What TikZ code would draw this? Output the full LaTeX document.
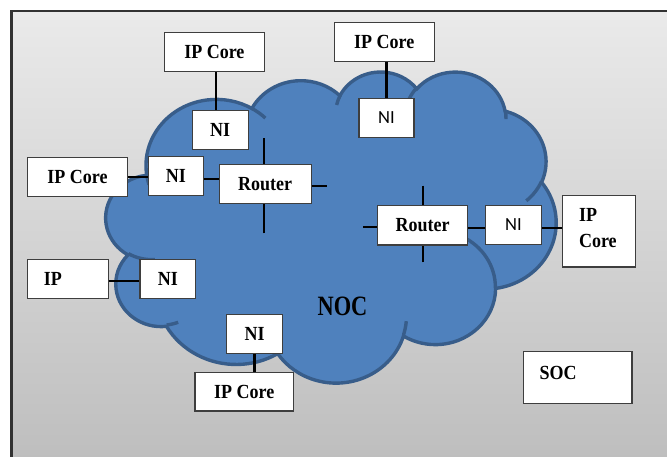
\documentclass[tikz,border=0pt]{standalone}
\usepackage{fontspec}
\setmainfont{Liberation Serif}[FakeStretch=0.9]
\newfontfamily\nisans{Carlito}
\newfontfamily\nocfont{Liberation Serif}[FakeStretch=0.8]

\definecolor{cloudfill}{RGB}{79,129,189}
\definecolor{cloudline}{RGB}{56,93,138}
\definecolor{boxline}{RGB}{62,62,62}
\definecolor{frameline}{RGB}{50,50,50}
\definecolor{bgtop}{RGB}{234,234,234}
\definecolor{bgbottom}{RGB}{188,188,188}

% Elliptical arc given by radii, a visual start angle and a sweep;
% the visual angles are turned into the parametric angles TikZ uses.
\newcommand\ooarc[4]{%
  \pgfextra{%
    \pgfmathparse{atan2((#1)*sin(#3),(#2)*cos(#3))}\global\let\oos\pgfmathresult
    \pgfmathparse{atan2((#1)*sin((#3)+(#4)),(#2)*cos((#3)+(#4)))}\global\let\ooe\pgfmathresult
    \pgfmathparse{mod(\ooe-(\oos)+720,360)}\global\let\ood\pgfmathresult
  }%
  arc[x radius=#1, y radius=#2, start angle=\oos, delta angle=\ood]}

\tikzset{
  cloudshape/.style={fill=cloudfill, draw=cloudline, line width=3.4pt},
  cloudedge/.style={draw=cloudline, line width=3.4pt},
  blk/.style={draw=boxline, fill=white, line width=1.1pt, inner sep=0pt,
    font=\fontsize{20}{22}\selectfont\bfseries},
  sanslbl/.style={font=\nisans\fontsize{18.5}{22}\selectfont},
  wire/.style={draw=black, line width=2.2pt},
}

\begin{document}
\begin{tikzpicture}[x=1pt, y=-1pt]
\useasboundingbox (0,0) rectangle (667,456);
\fill[white] (0,0) rectangle (667,456);
\shade[top color=bgtop, bottom color=bgbottom] (11,11) rectangle (700,480);
\draw[frameline, line width=2.4pt] (11.6,11.2) rectangle (700,480);

% the NOC cloud
\begin{scope}[shift={(106,71)}, xscale=450/432, yscale=311/432]
  \path[cloudshape] (39.00,143.70)
    \ooarc{67.53}{91.90}{-190.48748}{123.78053}
    \ooarc{53.33}{72.67}{-144.10238}{89.94523}
    \ooarc{43.65}{59.45}{-145.80792}{99.72302}
    \ooarc{48.57}{65.95}{-130.98607}{117.24173}
    \ooarc{53.33}{72.73}{-78.70888}{109.02692}
    \ooarc{67.75}{92.20}{-46.26725}{130.269}
    \ooarc{57.85}{78.67}{0.62502}{114.03333}
    \ooarc{67.52}{92.15}{22.4646}{115.17255}
    \ooarc{77.20}{105.43}{66.24263}{75.71102}
    \ooarc{43.60}{59.18}{-274.94208}{146.73557}
    \ooarc{43.45}{59.45}{-246.8285}{152.51885}
    -- cycle;
  \path[cloudedge]
    (46.93,261.77) \ooarc{43.45}{59.45}{86.742}{26.4295}
    (69.28,348.99) \ooarc{43.60}{59.18}{73.61047}{11.44747}
    (164.78,390.90) \ooarc{67.52}{92.15}{137.62415}{14.0811}
    (288.27,347.51) \ooarc{67.52}{92.15}{6.45327}{15.99835}
    (341.29,229.54) \ooarc{57.85}{78.67}{-70.29235}{70.91737}
    (417.98,153.54) \ooarc{53.33}{72.73}{30.31803}{27.7515}
    (383.24,54.26) \ooarc{48.57}{65.95}{-13.74433}{14.8589}
    (290.78,39.52) \ooarc{48.57}{65.95}{-149.18145}{18.19537}
    (221.41,47.20) \ooarc{43.65}{59.45}{-163.49427}{17.68635}
    (140.00,51.92) \ooarc{67.53}{91.90}{-66.70695}{12.31935}
    (41.27,157.89) \ooarc{67.53}{91.90}{157.65435}{11.85817};
\end{scope}

\node[font=\nocfont\fontsize{28}{30}\selectfont\bfseries] (noc) at (342.5,306.5) {NOC};

% boxes
\node[blk, minimum width=99.3pt, minimum height=39.4pt] (ipA) at (214.4,52) {IP Core};
\node[blk, minimum width=55.7pt, minimum height=38.6pt] (niA) at (220.2,130) {NI};
\node[blk, minimum width=99.5pt, minimum height=39pt] (ipB) at (384.3,41.8) {IP Core};
\node[blk, sanslbl, minimum width=55pt, minimum height=39pt] (niB) at (386.5,117.8) {NI};
\node[blk, minimum width=99.6pt, minimum height=38.7pt] (ipC) at (77.5,176.7) {IP Core};
\node[blk, minimum width=55pt, minimum height=39pt] (niC) at (175.8,176.2) {NI};
\node[blk, minimum width=91.7pt, minimum height=39pt] (rtA) at (265.2,183.8) {Router};
\node[blk, minimum width=90pt, minimum height=39.3pt] (rtB) at (422.7,225.3) {Router};
\node[blk, sanslbl, minimum width=55.6pt, minimum height=38.7pt] (niD) at (513.5,224.7) {NI};
\node[blk, minimum width=72.7pt, minimum height=71.3pt, text width=40pt, align=left,
  text depth=32pt, font=\fontsize{20}{26}\selectfont\bfseries] (ipD) at (599,231.3) {IP\\Core};
\node[blk, minimum width=80.8pt, minimum height=39pt, text width=48.6pt, align=left] (ipE) at (68.1,278.8) {IP};
\node[blk, minimum width=55.7pt, minimum height=38.6pt] (niE) at (167.8,279) {NI};
\node[blk, minimum width=55.8pt, minimum height=39pt] (niF) at (254.7,333.8) {NI};
\node[blk, minimum width=98.6pt, minimum height=38.3pt] (ipF) at (244.3,391.8) {IP Core};
\node[blk, minimum width=108.6pt, minimum height=51.6pt, text width=76.2pt, align=left, text depth=9pt] (soc) at (577.7,377.5) {SOC};

% free ends of the router ports
\coordinate (rAn) at (264.3,138.3);
\coordinate (rAs) at (264.3,233.3);
\coordinate (rAe) at (326.7,185.7);
\coordinate (rBw) at (363,226.7);
\coordinate (rBn) at (422.7,185.7);
\coordinate (rBs) at (422.7,262.3);

% links
\draw[wire] (215.7,0 |- ipA.south) -- (215.7,0 |- niA.north);
\draw[wire] (niB.north |- ipB.south) -- (niB.north);
\draw[wire] (ipC.east) -- (ipC.east -| niC.west);
\draw[wire] (0,178.7 -| niC.east) -- (0,178.7 -| rtA.west);
\draw[wire] (rAn) -- (rAn |- rtA.north);
\draw[wire] (rAs) -- (rAs |- rtA.south);
\draw[wire] (rAe) -- (rAe -| rtA.east);
\draw[wire] (rBw) -- (rBw -| rtB.west);
\draw[wire] (rBn) -- (rBn |- rtB.north);
\draw[wire] (rBs) -- (rBs |- rtB.south);
\draw[wire] (0,227.7 -| rtB.east) -- (0,227.7 -| niD.west);
\draw[wire] (0,227.7 -| niD.east) -- (0,227.7 -| ipD.west);
\draw[wire] (0,281 -| ipE.east) -- (0,281 -| niE.west);
\draw[wire] (254.5,0 |- niF.south) -- (254.5,0 |- ipF.north);
\end{tikzpicture}
\end{document}
